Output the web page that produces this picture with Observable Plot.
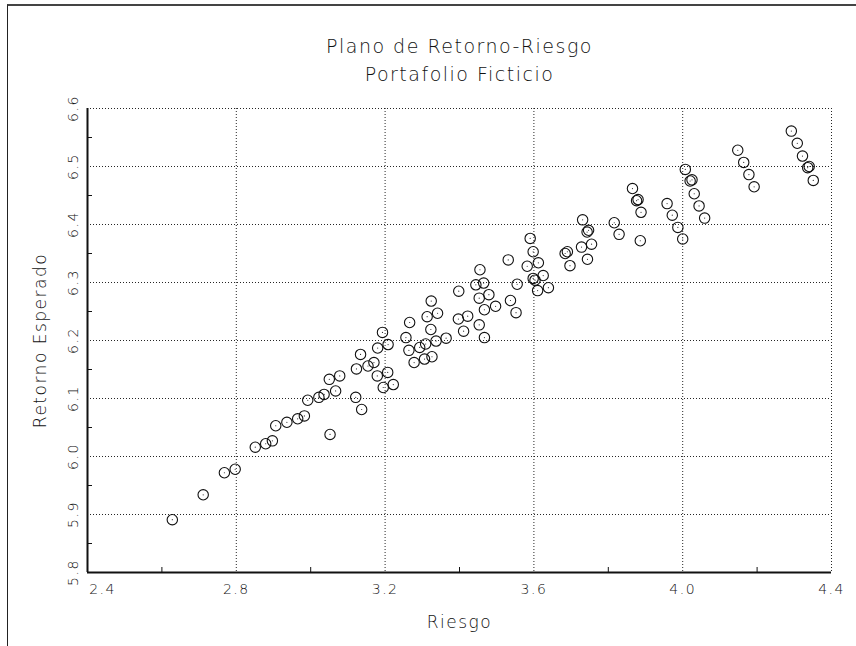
<!DOCTYPE html>
<html><head><meta charset="utf-8">
<script src="https://cdn.jsdelivr.net/npm/d3@7"></script>
<script src="https://cdn.jsdelivr.net/npm/@observablehq/plot@0.6"></script>
<style>
body{margin:0;background:#fff;}
#wrap{position:relative;width:856px;height:646px;overflow:hidden;background:#fff;}
#border{position:absolute;left:7px;top:4px;width:900px;height:700px;border-left:1.5px solid #222;border-top:2px solid #444;}
#chart{position:absolute;left:0;top:0;}
</style></head><body>
<div id="wrap"><div id="border"></div><div id="chart"></div></div>
<script>
const titleLines = ["Plano de Retorno-Riesgo", "Portafolio Ficticio"];
const xLabel = "Riesgo";
const yLabel = "Retorno Esperado";
const xTicks = [2.4, 2.8, 3.2, 3.6, 4.0, 4.4];
const yTicks = [5.8, 5.9, 6.0, 6.1, 6.2, 6.3, 6.4, 6.5, 6.6];
const xMinor = [2.6, 3.0, 3.4, 3.8, 4.2];
const yMinor = [5.85, 5.95, 6.05, 6.15, 6.25, 6.35, 6.45, 6.55];

const riesgo = [
  2.628, 2.711, 2.768, 2.797, 2.851, 2.879, 2.897, 2.906, 2.936, 2.965,
  2.983, 2.992, 3.022, 3.036, 3.067, 3.052, 3.121, 3.137, 3.078, 3.050,
  3.123, 3.134, 3.154, 3.170, 3.179, 3.207, 3.195, 3.222, 3.193, 3.208,
  3.180, 3.266, 3.256, 3.264, 3.278, 3.293, 3.309, 3.306, 3.326, 3.337,
  3.364, 3.323, 3.313, 3.324, 3.341, 3.397, 3.422, 3.411, 3.453, 3.467,
  3.398, 3.455, 3.444, 3.465, 3.479, 3.453, 3.497, 3.467, 3.531, 3.582,
  3.555, 3.537, 3.552, 3.590, 3.598, 3.612, 3.625, 3.598, 3.603, 3.610,
  3.639, 3.684, 3.690, 3.697, 3.731, 3.743, 3.747, 3.755, 3.728, 3.744,
  3.816, 3.829, 3.886, 3.865, 3.876, 3.880, 3.888, 3.958, 3.972, 3.987,
  4.000, 4.007, 4.020, 4.025, 4.031, 4.044, 4.059, 4.148, 4.164, 4.178,
  4.192, 4.292, 4.308, 4.322, 4.336, 4.340, 4.351
];
const retorno = [
  5.891, 5.934, 5.972, 5.978, 6.016, 6.022, 6.027, 6.053, 6.059, 6.065,
  6.070, 6.097, 6.102, 6.107, 6.113, 6.038, 6.102, 6.081, 6.139, 6.133,
  6.151, 6.176, 6.156, 6.162, 6.139, 6.145, 6.119, 6.124, 6.214, 6.193,
  6.187, 6.231, 6.205, 6.183, 6.162, 6.188, 6.194, 6.168, 6.172, 6.199,
  6.204, 6.219, 6.241, 6.268, 6.247, 6.237, 6.242, 6.216, 6.227, 6.205,
  6.285, 6.322, 6.296, 6.299, 6.279, 6.273, 6.259, 6.253, 6.339, 6.328,
  6.297, 6.269, 6.248, 6.376, 6.353, 6.334, 6.312, 6.307, 6.304, 6.286,
  6.291, 6.350, 6.353, 6.329, 6.408, 6.387, 6.390, 6.366, 6.361, 6.340,
  6.403, 6.383, 6.372, 6.462, 6.441, 6.443, 6.421, 6.436, 6.416, 6.395,
  6.375, 6.495, 6.475, 6.477, 6.453, 6.432, 6.411, 6.528, 6.507, 6.486,
  6.465, 6.561, 6.540, 6.518, 6.498, 6.500, 6.476
];

const data = riesgo.map((x, i) => ({riesgo: x, retorno: retorno[i]}));
const fmt = d3.format(".1f");
const font = "DejaVu Sans, Liberation Sans, sans-serif";
const ink = "#111";

const chart = Plot.plot({
  width: 856,
  height: 646,
  marginLeft: 87,
  marginRight: 25,
  marginTop: 108,
  marginBottom: 74,
  x: {domain: [2.4, 4.4], axis: null},
  y: {domain: [5.8, 6.6], axis: null},
  style: {fontFamily: font, background: "transparent", color: ink},
  marks: [
    Plot.gridX(xTicks.slice(1), {stroke: "#000", strokeOpacity: 0.85, strokeWidth: 1, strokeDasharray: "1,2"}),
    Plot.gridY(yTicks.slice(1), {stroke: "#000", strokeOpacity: 0.85, strokeWidth: 1, strokeDasharray: "1,2"}),
    Plot.ruleX(xMinor, {y1: 5.8, y2: 5.8, insetTop: -5, stroke: ink, strokeWidth: 1}),
    Plot.ruleY(yMinor, {x1: 2.4, x2: 2.4, insetRight: -5, stroke: ink, strokeWidth: 1}),
    Plot.ruleX([2.4], {stroke: ink, strokeWidth: 2}),
    Plot.ruleY([5.8], {stroke: ink, strokeWidth: 2}),
    // x tick labels
    Plot.text(xTicks.slice(0, 1), {x: d => d, text: d => fmt(d), frameAnchor: "bottom", textAnchor: "middle", dy: 21, dx: 15, fontSize: 14, fontWeight: 300, fill: ink}),
    Plot.text(xTicks.slice(1), {x: d => d, text: d => fmt(d), frameAnchor: "bottom", textAnchor: "middle", dy: 21, fontSize: 14, fontWeight: 300, fill: ink}),
    // y tick labels (rotated)
    Plot.text(yTicks, {y: d => d, text: d => fmt(d), frameAnchor: "left", textAnchor: "middle", dx: -14, rotate: -90, fontSize: 14, fontWeight: 300, fill: ink}),
    // axis labels
    Plot.text([xLabel], {text: d => d, frameAnchor: "bottom", textAnchor: "middle", dy: 55, fontSize: 17, fontWeight: 300, fill: ink}),
    Plot.text([yLabel], {text: d => d, frameAnchor: "left", textAnchor: "middle", dx: -47, rotate: -90, fontSize: 17, fontWeight: 300, fill: ink}),
    // title
    Plot.text([titleLines[0]], {text: d => d, frameAnchor: "top", textAnchor: "middle", dy: -69, fontSize: 19, fontWeight: 300, fill: ink}),
    Plot.text([titleLines[1]], {text: d => d, frameAnchor: "top", textAnchor: "middle", dy: -41, fontSize: 19, fontWeight: 300, fill: ink}),
    // points
    Plot.dot(data, {x: "riesgo", y: "retorno", r: 5.2, stroke: "#111", strokeWidth: 1.1, fill: "none"}),
    Plot.dot(data, {x: "riesgo", y: "retorno", r: 0.6, fill: "#333"})
  ]
});
chart.querySelectorAll("text").forEach(t => t.style.letterSpacing = "1.5px");
document.getElementById("chart").appendChild(chart);
</script>
</body></html>
